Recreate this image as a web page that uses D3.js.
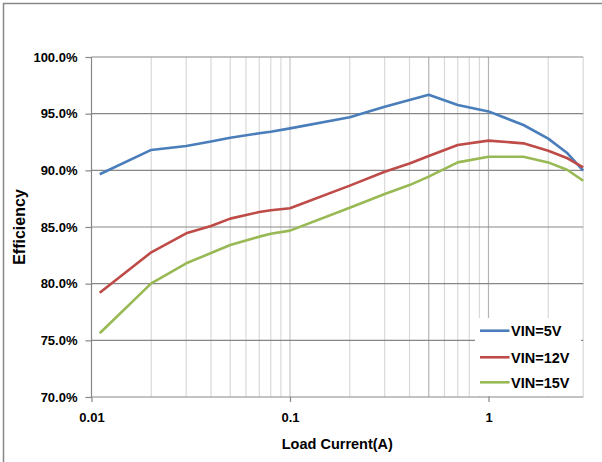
<!DOCTYPE html>
<html><head><meta charset="utf-8">
<script src="https://cdn.jsdelivr.net/npm/d3@7"></script>
<style>body{margin:0;background:#fff}svg{display:block}text{font-family:"Liberation Sans",Arial,sans-serif;font-weight:bold;fill:#000}</style>
</head><body>
<svg id="c" width="602" height="462"></svg>
<script>
const seriesNames = ["VIN=5V", "VIN=12V", "VIN=15V"];
const seriesColors = ["#4a7ebb", "#be4b48", "#98b954"];
const loadCurrent = [0.011, 0.02, 0.03, 0.04, 0.05, 0.07, 0.08, 0.1, 0.2, 0.3, 0.4, 0.5, 0.7, 1.0, 1.5, 2.0, 2.5, 3.0];
const eff5V  = [89.65, 91.8, 92.15, 92.55, 92.88, 93.27, 93.41, 93.7, 94.68, 95.6, 96.2, 96.67, 95.76, 95.2, 94.0, 92.8, 91.5, 89.97];
const eff12V = [79.2, 82.77, 84.44, 85.09, 85.74, 86.32, 86.48, 86.65, 88.65, 89.88, 90.6, 91.26, 92.24, 92.62, 92.38, 91.73, 91.06, 90.26];
const eff15V = [75.62, 80.03, 81.8, 82.7, 83.41, 84.15, 84.4, 84.68, 86.7, 87.91, 88.7, 89.44, 90.7, 91.2, 91.2, 90.7, 90.03, 89.08];
const yTicks = [70, 75, 80, 85, 90, 95, 100];
const xTickLabels = [0.01, 0.1, 1];
const xMinorGrid = [0.02,0.03,0.04,0.05,0.06,0.07,0.08,0.09,0.1,0.2,0.3,0.4,0.5,0.6,0.7,0.8,0.9,1,2,3];

const svg = d3.select("#c");
const L = 91.5, R = 583.2, T = 57, B = 397;
const x = d3.scaleLog().domain([0.01, 3]).range([L, R]);
const y = d3.scaleLinear().domain([70, 100]).range([B, T]);

// outer border (left/top)
svg.append("path").attr("d", "M3.5,462 V3.5 H602").attr("fill","none").attr("stroke","#878787").attr("stroke-width",1.5);

// vertical gridlines
svg.append("g").selectAll("line").data(xMinorGrid).join("line")
  .attr("x1", d => x(d)).attr("x2", d => x(d)).attr("y1", T).attr("y2", B)
  .attr("stroke", d => (d === 0.5 || d === 1) ? "#b4b4b4" : (d === 0.1 ? "#c8c8c8" : "#d9d9d9"))
  .attr("stroke-width", 1.2);

// horizontal gridlines
svg.append("g").selectAll("line").data(yTicks).join("line")
  .attr("x1", L).attr("x2", R).attr("y1", d => y(d)).attr("y2", d => y(d))
  .attr("stroke", "#878787").attr("stroke-width", 1.2);

// left axis
svg.append("line").attr("x1", L).attr("x2", L).attr("y1", T).attr("y2", B).attr("stroke","#878787").attr("stroke-width",1.2);

// x axis via d3
const xAxis = d3.axisBottom(x).tickValues(xTickLabels).tickFormat(d => String(d)).tickSize(5).tickPadding(11);
const gx = svg.append("g").attr("transform", `translate(0,${B})`).call(xAxis);
gx.select(".domain").remove();
gx.selectAll(".tick line").attr("stroke","#878787").attr("stroke-width",1.2);
gx.selectAll(".tick text").attr("font-size", 13).attr("font-family","Liberation Sans, Arial, sans-serif").attr("font-weight","bold").attr("fill","#000");

// y axis
const yAxis = d3.axisLeft(y).tickValues(yTicks).tickFormat(d => d.toFixed(1) + "%").tickSize(6).tickPadding(8);
const gy = svg.append("g").attr("transform", `translate(${L},0)`).call(yAxis);
gy.select(".domain").remove();
gy.selectAll(".tick line").attr("stroke","#878787").attr("stroke-width",1.2);
gy.selectAll(".tick text").attr("font-size", 13).attr("font-family","Liberation Sans, Arial, sans-serif").attr("font-weight","bold").attr("fill","#000");

// lines
const allSeries = [eff5V, eff12V, eff15V];
const line = d3.line().x((d, i) => x(loadCurrent[i])).y(d => y(d));
allSeries.forEach((s, k) => {
  svg.append("path").datum(s).attr("d", line).attr("fill","none")
    .attr("stroke", seriesColors[k]).attr("stroke-width", 2.6).attr("stroke-linejoin","round");
});

// legend
const lg = svg.append("g");
lg.append("rect").attr("x", 475).attr("y", 318).attr("width", 106).attr("height", 78).attr("fill","#fff");
const rows = [330.7, 357.3, 382.3];
seriesNames.forEach((n, k) => {
  lg.append("line").attr("x1", 480).attr("x2", 509.5).attr("y1", rows[k]).attr("y2", rows[k])
    .attr("stroke", seriesColors[k]).attr("stroke-width", 2.6);
  lg.append("text").attr("x", 511).attr("y", rows[k]).attr("dy", "0.36em").attr("font-size", 14.5).text(n);
});

// titles
svg.append("text").attr("x", (L + R) / 2).attr("y", 443.5).attr("dy","0.36em").attr("text-anchor","middle").attr("font-size", 14.5).text("Load Current(A)");
svg.append("text").attr("transform", `translate(19,${(T + B) / 2}) rotate(-90)`).attr("dy","0.36em").attr("text-anchor","middle").attr("font-size", 16).text("Efficiency");
</script>
</body></html>
